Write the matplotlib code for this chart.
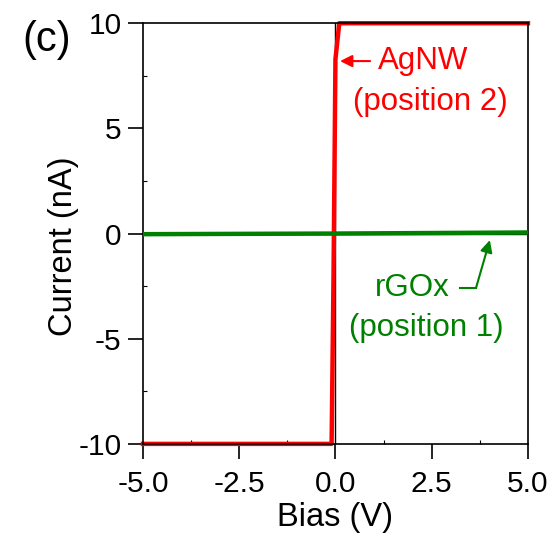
import matplotlib
matplotlib.use("Agg")
import matplotlib.pyplot as plt
from matplotlib.ticker import MultipleLocator

plt.rcParams['font.family'] = ['Liberation Sans', 'DejaVu Sans']
plt.rcParams['axes.unicode_minus'] = False

# AgNW (position 2) I-V curve
agnw_bias = [-5.0, -0.1, -0.05, 0.0, 0.1, 5.0]
agnw_current = [-10.0, -10.0, -2.0, 8.3, 10.0, 10.0]

# rGOx (position 1) I-V curve
rgox_bias = [-5.0, 0.0, 5.0]
rgox_current = [-0.03, 0.0, 0.05]

xticks = [-5.0, -2.5, 0.0, 2.5, 5.0]
yticks = [-10, -5, 0, 5, 10]

fig = plt.figure(figsize=(5.54, 5.40), dpi=100)
ax = fig.add_axes([0.258, 0.178, 0.695, 0.779])

ax.axvline(0, color='black', lw=1.0, zorder=1)
ax.axhline(0, color='black', lw=1.0, zorder=1)
ax.plot(rgox_bias, rgox_current, color='#008000', lw=3.2, zorder=3)
ax.plot(agnw_bias, agnw_current, color='red', lw=3.2, zorder=2, clip_on=False)

ax.set_xlim(-5, 5)
ax.set_ylim(-10, 10)
ax.set_xticks(xticks)
ax.set_xticklabels(['%.1f' % t for t in xticks])
ax.set_yticks(yticks)
ax.xaxis.set_minor_locator(MultipleLocator(1.25))
ax.yaxis.set_minor_locator(MultipleLocator(2.5))
ax.tick_params(which='major', direction='out', length=10.5, width=1.2, labelsize=21.5)
ax.tick_params(axis='x', which='major', pad=8)
ax.tick_params(axis='y', which='major', pad=5)
ax.tick_params(which='minor', direction='in', length=3, width=0.8)
for s in ax.spines.values():
    s.set_linewidth(1.2)

ax.set_xlabel('Bias (V)', fontsize=23.5, labelpad=3)
ax.set_ylabel('Current (nA)', fontsize=23.5, labelpad=0)
ax.yaxis.set_label_coords(-0.165, 0.47)

# annotations
ax.annotate('', xy=(0.12, 8.2), xytext=(0.9, 8.2),
            arrowprops=dict(arrowstyle='-|>', color='red', lw=1.5,
                            mutation_scale=18, shrinkA=0, shrinkB=0))
ax.text(2.27, 8.2, 'AgNW', color='red', fontsize=22.5, ha='center', va='center')
ax.text(2.46, 6.25, '(position 2)', color='red', fontsize=22.5, ha='center', va='center')

ax.plot([3.23, 3.65], [-2.59, -2.59], color='#008000', lw=1.5)
ax.annotate('', xy=(4.01, -0.31), xytext=(3.65, -2.59),
            arrowprops=dict(arrowstyle='-|>', color='#008000', lw=1.5,
                            mutation_scale=18, shrinkA=0, shrinkB=0))
ax.text(1.99, -2.59, 'rGOx', color='#008000', fontsize=22.5, ha='center', va='center')
ax.text(2.37, -4.49, '(position 1)', color='#008000', fontsize=22.5, ha='center', va='center')

fig.text(0.084, 0.925, '(c)', fontsize=30, ha='center', va='center')

fig.savefig('out.png', dpi=100)
